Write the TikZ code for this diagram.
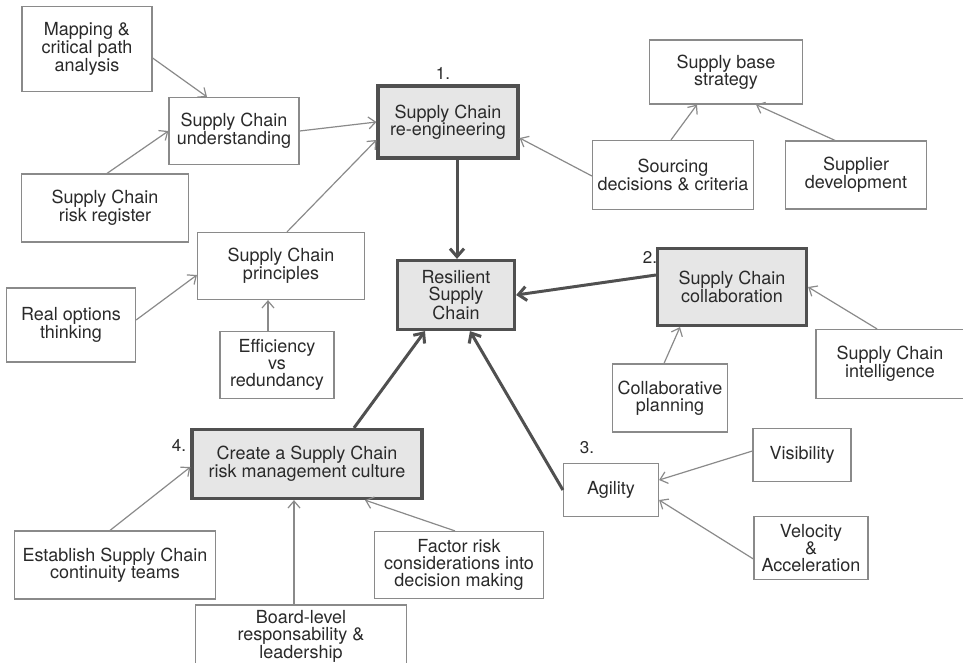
\documentclass[tikz,border=0pt]{standalone}
\usepackage{fontspec}
\setmainfont{TeX Gyre Heros}
\usepackage{tikz}
\usetikzlibrary{arrows.meta, positioning}
\definecolor{boxline}{HTML}{8A8A8A}
\definecolor{keyline}{HTML}{505050}
\definecolor{keyfill}{HTML}{E6E6E6}
\definecolor{inkgray}{HTML}{2A2A2A}

\begin{document}
\begin{tikzpicture}[
		box/.style={draw=boxline, line width=1.2pt, fill=white, align=center, inner sep=0pt, text=inkgray, font=\fontsize{18}{17}\selectfont},
		keybox/.style={box, draw=keyline, line width=3.2pt, fill=keyfill},
		num/.style={inner sep=0pt, text=inkgray, font=\fontsize{17}{17}\selectfont},
		link/.style={draw=boxline, line width=1.2pt, -{Straight Barb[length=7pt, width=12pt]}},
		mainlink/.style={draw=keyline, line width=3pt, -{Straight Barb[length=8pt, width=14pt]}}]
		\useasboundingbox (0pt,0pt) rectangle (963pt,-662pt);
		\clip (0pt,0pt) rectangle (963pt,-662pt);

			%re-engineering branch
			\node[keybox, minimum width=140pt, minimum height=72pt] (reeng) at (448pt,-122pt) {Supply Chain\\re-engineering};
			\node[num] (num1) at (443pt,-73pt) {1.};
			\node[box, minimum width=130pt, minimum height=85pt] (mapping) at (87pt,-49pt) {Mapping \&\\critical path\\analysis};
			\node[box, minimum width=130pt, minimum height=67pt] (under) at (234pt,-131pt) {Supply Chain\\understanding};
			\node[box, minimum width=167pt, minimum height=68pt] (register) at (105pt,-208pt) {Supply Chain\\risk register};
			\node[box, minimum width=167pt, minimum height=67pt] (principles) at (281pt,-266pt) {Supply Chain\\principles};
			\node[box, minimum width=129pt, minimum height=74pt] (options) at (71pt,-325pt) {Real options\\thinking};
			\node[box, minimum width=114pt, minimum height=67pt] (efficiency) at (277pt,-365pt) {Efficiency\\vs\\redundancy};
			\node[box, minimum width=153pt, minimum height=64pt] (supplybase) at (726pt,-72pt) {Supply base\\strategy};
			\node[box, minimum width=161pt, minimum height=69pt] (sourcing) at (673pt,-175pt) {Sourcing\\decisions \& criteria};
			\node[box, minimum width=141pt, minimum height=68pt] (supplierdev) at (856pt,-175pt) {Supplier\\development};

			%centre
			\node[keybox, minimum width=117pt, minimum height=69pt] (resilient) at (456pt,-295pt) {Resilient\\Supply\\Chain};

			%collaboration branch
			\node[keybox, minimum width=149pt, minimum height=77pt] (collab) at (732pt,-287pt) {Supply Chain\\collaboration};
			\node[num] (num2) at (650pt,-257pt) {2.};
			\node[box, minimum width=148pt, minimum height=69pt] (intel) at (890pt,-364pt) {Supply Chain\\intelligence};
			\node[box, minimum width=115pt, minimum height=68pt] (collplan) at (670pt,-398pt) {Collaborative\\planning};

			%agility branch
			\node[box, minimum width=95pt, minimum height=53pt] (agility) at (611pt,-490pt) {Agility};
			\node[num] (num3) at (587pt,-448pt) {3.};
			\node[box, minimum width=98pt, minimum height=53pt] (visibility) at (802pt,-455pt) {Visibility};
			\node[box, minimum width=114pt, minimum height=63pt] (velocity) at (811pt,-548pt) {Velocity\\\&\\Acceleration};

			%culture branch
			\node[keybox, minimum width=230pt, minimum height=69pt] (culture) at (307pt,-464pt) {Create a Supply Chain\\risk management culture};
			\node[num] (num4) at (179pt,-445pt) {4.};
			\node[box, minimum width=201pt, minimum height=68pt] (establish) at (115pt,-565pt) {Establish Supply Chain\\continuity teams};
			\node[box, minimum width=169pt, minimum height=67pt] (factor) at (459pt,-565pt) {Factor risk\\considerations into\\decision making};
			\node[box, minimum width=211pt, minimum height=62pt] (board) at (301pt,-636pt) {Board-level\\responsability \&\\leadership};

			%thin links:
			\draw[link] ([yshift=-9pt]mapping.east) -- ([xshift=-27pt]under.north);
			\draw[link] ([xshift=2pt]register.north) -- (under.west);
			\draw[link] (under.east) -- (reeng.west);
			\draw[link] ([xshift=6pt]principles.north) -- ([yshift=-18pt]reeng.west);
			\draw[link] ([yshift=5pt]options.east) -- ([yshift=-9pt]principles.west);
			\draw[link] ([xshift=-9pt]efficiency.north) -- ([xshift=-9pt]efficiency.north |- principles.south);
			\draw[link] ([xshift=-2pt]sourcing.north) -- ([xshift=-29pt]supplybase.south);
			\draw[link] ([xshift=-21pt]supplierdev.north) -- ([xshift=30pt]supplybase.south);
			\draw[link] ([yshift=-1pt]sourcing.west) -- ([yshift=-16pt]reeng.east);
			\draw[link] ([xshift=-13pt]intel.north) -- (collab.east);
			\draw[link] ([xshift=-6pt]collplan.north) -- ([xshift=-52pt]collab.south);
			\draw[link] ([yshift=4pt]visibility.west) -- ([yshift=10pt]agility.east);
			\draw[link] ([yshift=-11pt]velocity.west) -- ([yshift=-10pt]agility.east);
			\draw[link] ([xshift=-5pt]establish.north) -- ([yshift=-3pt]culture.west);
			\draw[link] ([xshift=-7pt]board.north) -- ([xshift=-7pt]board.north |- culture.south);
			\draw[link] ([xshift=-4pt]factor.north) -- ([xshift=58pt]culture.south);

			%main links:
			\draw[mainlink] ([xshift=9pt]reeng.south) -- ([xshift=9pt]reeng.south |- resilient.north);
			\draw[mainlink] ([yshift=12pt]collab.west) -- (resilient.east);
			\draw[mainlink] (agility.west) -- ([xshift=14pt]resilient.south);
			\draw[mainlink] ([xshift=47pt]culture.north) -- ([xshift=-31pt]resilient.south);
	\end{tikzpicture}
\end{document}
